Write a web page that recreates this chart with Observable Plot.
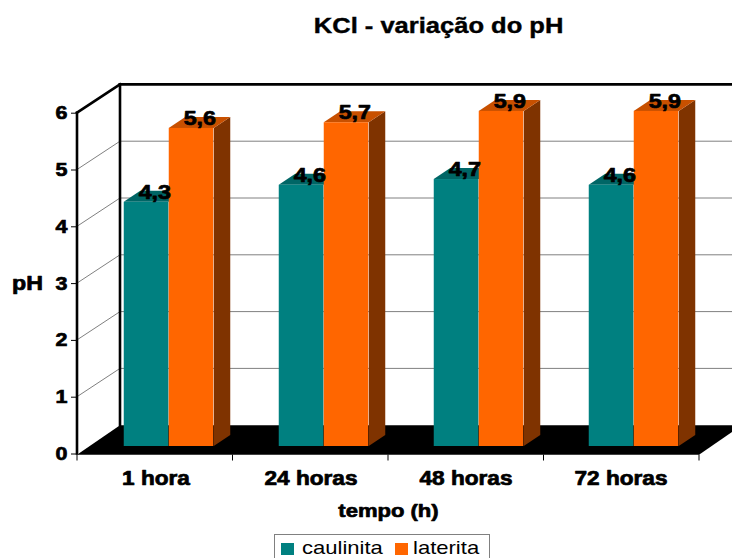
<!DOCTYPE html>
<html>
<head>
<meta charset="utf-8">
<script src="https://cdn.jsdelivr.net/npm/d3@7"></script>
<script src="https://cdn.jsdelivr.net/npm/@observablehq/plot@0.6"></script>
<style>
  body { margin: 0; background: #fff; }
  #wrap { position: relative; width: 732px; height: 558px; overflow: hidden; font-family: "Liberation Sans", Arial, sans-serif; }
  #title { position: absolute; left: 0; top: 15px; width: 878px; text-align: center; font-size: 22px; line-height: 22px; font-weight: bold; color: #000; -webkit-text-stroke: 0.4px #000; }
  .wide { display: inline-block; transform: scaleX(1.16); }
  #title .wide { transform-origin: center; }
  #chart { position: absolute; left: 0; top: 45px; }
  #legend { position: absolute; left: 274px; top: 534px; width: 216px; height: 28px; box-sizing: border-box; border: 1px solid #808080; background: #fff; }
  #legend .sw { position: absolute; top: 8px; width: 13px; height: 12px; }
  #legend .lb { position: absolute; top: 3px; font-size: 19px; line-height: 19px; color: #000; white-space: nowrap; transform-origin: left center; }
</style>
</head>
<body>
<div id="wrap">
  <div id="title"><span class="wide">KCl - variação do pH</span></div>
  <div id="chart"></div>
  <div id="legend"></div>
</div>
<script>
// pH measured in KCl after each contact time
const categories = ["1 hora", "24 horas", "48 horas", "72 horas"];
const caulinita = [4.3, 4.6, 4.7, 4.6];
const laterita = [5.6, 5.7, 5.9, 5.9];
const yTicks = [0, 1, 2, 3, 4, 5, 6];
const seriesNames = ["caulinita", "laterita"];

// face colours: front, top, side
const tealFaces = ["#008080", "#006666", "#004c4c"];
const orangeFaces = ["#FF6600", "#C85000", "#7F3300"];

const rows = categories.map((c, i) => ({tempo: c, caulinita: caulinita[i], laterita: laterita[i]}));

// 3D projection offsets (pixels)
const WALL_DX = 43, WALL_DY = -28.3;   // back wall relative to the front plane
const BAR_DX = 13, BAR_DY = -7.5;      // bar front faces relative to the front plane
const DEPTH_DX = 16.5, DEPTH_DY = -11; // bar depth
const BAR_W = 45;
const TEXT_STRETCH = 1.16;             // wide lettering
const heavy = {fill: "#000", stroke: "#000", strokeWidth: 0.7}; // extra-bold lettering

const W = 732, H = 485;
const mLeft = 77, mRight = 33, mTop = 67.7, mBottom = 76.5;
const bandW = (W - mLeft - mRight) / categories.length;

const poly = (pts) => pts.map(p => p.join(",")).join(" ");

// walls, floor, gridlines and the category ticks under the floor
function room(index, scales) {
  const {x, y} = scales;
  const g = d3.create("svg:g");
  const x0 = mLeft, x1 = W - mRight;
  const y0 = y(0), yTop = y(6);
  const far = W + 60;
  // gridlines on the back wall and left wall
  for (const v of yTicks.slice(1, -1)) {
    g.append("line").attr("x1", x0 + WALL_DX).attr("x2", far)
      .attr("y1", y(v) + WALL_DY).attr("y2", y(v) + WALL_DY)
      .attr("stroke", "#808080").attr("stroke-width", 1);
    g.append("line").attr("x1", x0).attr("x2", x0 + WALL_DX)
      .attr("y1", y(v)).attr("y2", y(v) + WALL_DY)
      .attr("stroke", "#808080").attr("stroke-width", 1);
  }
  // floor
  g.append("polygon")
    .attr("points", poly([[x0, y0 + 1.2], [x1, y0 + 1.2], [x1 + WALL_DX, y0 + WALL_DY], [x0 + WALL_DX, y0 + WALL_DY]]))
    .attr("fill", "#000");
  // wall edges
  const edge = (ax, ay, bx, by) => g.append("line")
    .attr("x1", ax).attr("y1", ay).attr("x2", bx).attr("y2", by)
    .attr("stroke", "#000").attr("stroke-width", 2.6).attr("stroke-linecap", "square");
  edge(x0 + WALL_DX, yTop + WALL_DY, x0 + WALL_DX, y0 + WALL_DY);
  edge(x0, yTop, x0 + WALL_DX, yTop + WALL_DY);
  edge(x0 + WALL_DX, yTop + WALL_DY, far, yTop + WALL_DY);
  edge(x0, yTop, x0, y0);
  // ticks between categories
  for (let i = 0; i <= categories.length; i++) {
    const xt = x0 + i * bandW;
    g.append("line").attr("x1", xt).attr("x2", xt).attr("y1", y0 + 1).attr("y2", y0 + 7)
      .attr("stroke", "#000").attr("stroke-width", 1);
  }
  return g.node();
}

// top and side faces of one series of bars
function barSides(values, side, faces) {
  return function (index, scales) {
    const {x, y} = scales;
    const g = d3.create("svg:g");
    categories.forEach((c, i) => {
      const center = x(c) + bandW / 2;
      const xl = (side < 0 ? center - BAR_W : center) + BAR_DX;
      const xr = xl + BAR_W;
      const yt = y(values[i]) + BAR_DY;
      const yb = y(0) + BAR_DY;
      g.append("polygon")
        .attr("points", poly([[xr, yt], [xr + DEPTH_DX, yt + DEPTH_DY], [xr + DEPTH_DX, yb + DEPTH_DY], [xr, yb]]))
        .attr("fill", faces[2]);
      g.append("polygon")
        .attr("points", poly([[xl, yt], [xr, yt], [xr + DEPTH_DX, yt + DEPTH_DY], [xl + DEPTH_DX, yt + DEPTH_DY]]))
        .attr("fill", faces[1]);
    });
    return g.node();
  };
}

const fmt = v => v.toFixed(1).replace(".", ",");
const half = bandW / 2;

const chart = Plot.plot({
  width: W,
  height: H,
  marginLeft: mLeft,
  marginRight: mRight,
  marginTop: mTop,
  marginBottom: mBottom,
  style: {
    fontFamily: "'Liberation Sans', Arial, sans-serif",
    fontWeight: "bold",
    color: "#000",
    background: "transparent",
    overflow: "visible"
  },
  x: {type: "band", domain: categories, padding: 0, axis: null},
  y: {domain: [0, 6], axis: null},
  marks: [
    room,
    barSides(caulinita, -1, tealFaces),
    Plot.barY(rows, {x: "tempo", y: "caulinita", fill: tealFaces[0],
      insetLeft: half - BAR_W, insetRight: half, dx: BAR_DX, dy: BAR_DY}),
    barSides(laterita, 1, orangeFaces),
    Plot.barY(rows, {x: "tempo", y: "laterita", fill: orangeFaces[0],
      insetLeft: half, insetRight: half - BAR_W, dx: BAR_DX, dy: BAR_DY}),
    Plot.axisY({ticks: yTicks, tickFormat: d => String(d), tickSize: 6, tickPadding: 4,
      fontSize: 18.5, label: null, stroke: "#000"}),
    Plot.text(["pH"], {y: () => 3, frameAnchor: "left", dx: -50, textAnchor: "middle",
      lineAnchor: "middle", fontSize: 20, ...heavy}),
    Plot.text(categories, {x: d => d, frameAnchor: "bottom", dy: 30.5, lineAnchor: "bottom",
      textAnchor: "middle", fontSize: 19.5, ...heavy}),
    Plot.text(["tempo (h)"], {frameAnchor: "bottom", dy: 62.5, lineAnchor: "bottom",
      textAnchor: "middle", fontSize: 19, ...heavy}),
    Plot.text(rows, {x: "tempo", y: "caulinita", text: d => fmt(d.caulinita),
      dx: -22.5 + BAR_DX + DEPTH_DX / 2, dy: BAR_DY - 3.5, lineAnchor: "bottom", fontSize: 20, ...heavy}),
    Plot.text(rows, {x: "tempo", y: "laterita", text: d => fmt(d.laterita),
      dx: 22.5 + BAR_DX + DEPTH_DX / 2, dy: BAR_DY - 3.5, lineAnchor: "bottom", fontSize: 20, ...heavy})
  ]
});

// widen the lettering horizontally about each label's own anchor
d3.select(chart).selectAll("text").each(function () {
  const t = this.getAttribute("transform") || "";
  const ax = +(this.getAttribute("x") || 0);
  this.setAttribute("transform",
    `${t} translate(${ax},0) scale(${TEXT_STRETCH},1) translate(${-ax},0)`.trim());
});
// y tick labels share the heavier lettering
d3.select(chart).selectAll("g[aria-label='y-axis tick label'] text")
  .attr("fill", "#000").attr("stroke", "#000").attr("stroke-width", 0.7).attr("paint-order", "stroke");
document.getElementById("chart").appendChild(chart);

// legend
const legend = d3.select("#legend");
const swatchLeft = [6, 120], labelLeft = [27, 138];
seriesNames.forEach((name, i) => {
  legend.append("div").attr("class", "sw")
    .style("left", swatchLeft[i] + "px")
    .style("background", [tealFaces, orangeFaces][i][0]);
  legend.append("div").attr("class", "lb wide")
    .style("left", labelLeft[i] + "px")
    .text(name);
});
</script>
</body>
</html>
